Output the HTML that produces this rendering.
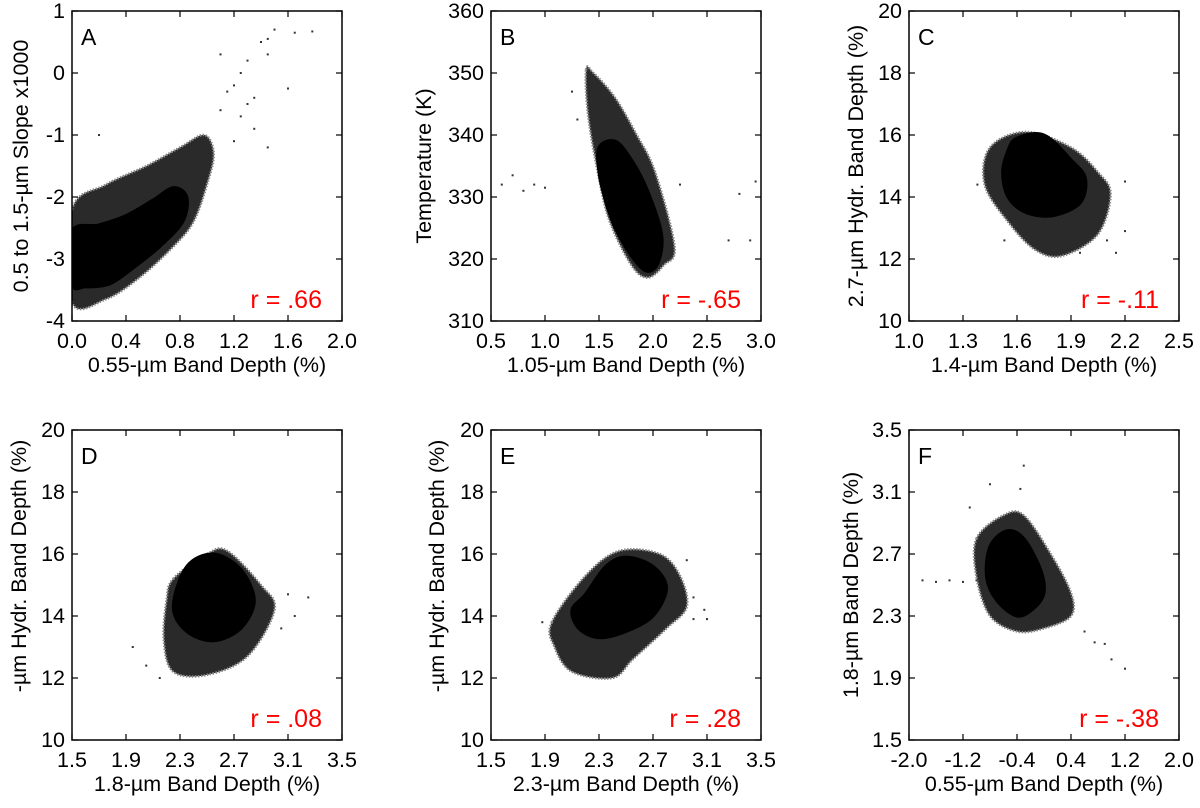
<!DOCTYPE html>
<html><head><meta charset="utf-8"><style>
body{margin:0;background:#fff}
svg text{font-family:"Liberation Sans",Arial,sans-serif;fill:#000}
</style></head><body>
<svg id="fig" width="1200" height="803" viewBox="0 0 1200 803" xmlns="http://www.w3.org/2000/svg"></svg>
<script>
// ---- data (approximate shapes of point clouds) ----
const panelIds = ["A","B","C","D","E","F"];
const rLabels = ["r = .66","r = -.65","r = -.11","r = .08","r = .28","r = -.38"];
const xTitles = ["0.55-\u00b5m Band Depth (%)","1.05-\u00b5m Band Depth (%)","1.4-\u00b5m Band Depth (%)","1.8-\u00b5m Band Depth (%)","2.3-\u00b5m Band Depth (%)","0.55-\u00b5m Band Depth (%)"];
const yTitles = ["0.5 to 1.5-\u00b5m Slope x1000","Temperature (K)","2.7-\u00b5m Hydr. Band Depth (%)","-\u00b5m Hydr. Band Depth (%)","-\u00b5m Hydr. Band Depth (%)","1.8-\u00b5m Band Depth (%)"];
const xTicksA = [0.0,0.4,0.8,1.2,1.6,2.0], xTickLabA = ["0.0","0.4","0.8","1.2","1.6","2.0"];
const yTicksA = [-4,-3,-2,-1,0,1], yTickLabA = ["-4","-3","-2","-1","0","1"];
const xTicksB = [0.5,1.0,1.5,2.0,2.5,3.0], xTickLabB = ["0.5","1.0","1.5","2.0","2.5","3.0"];
const yTicksB = [310,320,330,340,350,360], yTickLabB = ["310","320","330","340","350","360"];
const xTicksC = [1.0,1.3,1.6,1.9,2.2,2.5], xTickLabC = ["1.0","1.3","1.6","1.9","2.2","2.5"];
const yTicksHyd = [10,12,14,16,18,20], yTickLabHyd = ["10","12","14","16","18","20"];
const xTicksDE = [1.5,1.9,2.3,2.7,3.1,3.5], xTickLabDE = ["1.5","1.9","2.3","2.7","3.1","3.5"];
const xTicksF = [-2.0,-1.2,-0.4,0.4,1.2,2.0], xTickLabF = ["-2.0","-1.2","-0.4","0.4","1.2","2.0"];
const yTicksF = [1.5,1.9,2.3,2.7,3.1,3.5], yTickLabF = ["1.5","1.9","2.3","2.7","3.1","3.5"];

const coreA = [[0,-2.55],[0.2,-2.45],[0.4,-2.3],[0.6,-2.05],[0.75,-1.85],[0.85,-2.0],[0.82,-2.4],[0.65,-2.8],[0.45,-3.15],[0.28,-3.4],[0.1,-3.45],[0,-3.4]];
const haloA = [[0,-2.2],[0.25,-1.8],[0.55,-1.5],[0.8,-1.2],[0.98,-1.0],[1.05,-1.3],[1.0,-1.8],[0.9,-2.4],[0.75,-2.8],[0.5,-3.3],[0.25,-3.65],[0,-3.7]];
const sparseA = [[1.2,-0.2],[1.3,0.2],[1.45,0.55],[1.5,0.7],[1.65,0.65],[1.78,0.67],[1.4,0.5],[1.25,0],[1.35,-0.4],[1.45,-1.2],[0.2,-1.0],[1.15,-0.3],[1.1,-0.6],[1.35,-0.9],[1.25,-0.7],[1.6,-0.25],[1.1,0.3],[1.45,0.3],[1.3,-0.5],[1.2,-1.1]];
const coreB = [[1.5,338],[1.65,339],[1.8,336],[1.95,331],[2.08,324],[2.05,319.5],[1.95,318],[1.82,320],[1.65,325],[1.55,330],[1.5,334]];
const haloB = [[1.38,350.5],[1.45,350],[1.65,346],[1.85,340],[2.02,334],[2.2,322],[2.1,319],[1.95,317],[1.8,319],[1.6,326],[1.5,333],[1.4,343]];
const sparseB = [[0.6,332],[0.7,333.5],[0.8,331],[0.9,332],[1.0,331.5],[2.25,332],[2.7,323],[2.9,323],[2.8,330.5],[2.95,332.5],[1.3,342.5],[1.25,347]];
const coreC = [[1.6,15.9],[1.75,16],[1.9,15.2],[1.98,14.6],[1.95,13.8],[1.8,13.4],[1.65,13.5],[1.55,14.0],[1.52,14.8],[1.55,15.5]];
const haloC = [[1.45,15.6],[1.65,16.1],[1.9,15.6],[2.05,14.8],[2.12,14.1],[2.05,12.8],[1.85,12.1],[1.7,12.3],[1.55,13.2],[1.42,14.4]];
const sparseC = [[1.38,14.4],[2.2,14.5],[2.2,12.9],[1.53,12.6],[2.15,12.2],[2.1,12.6],[1.95,12.2]];
const coreD = [[2.35,15.6],[2.55,16],[2.75,15.5],[2.85,14.5],[2.75,13.6],[2.55,13.2],[2.35,13.5],[2.25,14.3]];
const haloD = [[2.25,15.2],[2.5,16],[2.65,16.1],[2.9,15],[3.0,14.2],[2.8,12.7],[2.5,12.1],[2.25,12.2],[2.18,13.2],[2.2,14.5]];
const sparseD = [[1.95,13.0],[2.05,12.4],[3.1,14.7],[3.15,14.0],[3.25,14.6],[3.05,13.6],[2.15,12.0]];
const coreE = [[2.2,14.7],[2.35,15.6],[2.5,15.9],[2.7,15.6],[2.8,14.9],[2.7,14.0],[2.5,13.5],[2.3,13.3],[2.15,13.6],[2.1,14.2]];
const haloE = [[1.95,13.8],[2.2,15.3],[2.45,16.1],[2.75,16],[2.9,15.3],[2.95,14.3],[2.8,13.6],[2.55,12.6],[2.4,12.0],[2.1,12.2],[1.97,13.0]];
const sparseE = [[1.88,13.8],[3.0,13.9],[3.1,13.9],[3.08,14.2],[2.95,15.8],[3.0,14.6]];
const coreF = [[-0.8,2.75],[-0.55,2.85],[-0.3,2.8],[-0.05,2.6],[0.0,2.45],[-0.15,2.35],[-0.4,2.3],[-0.7,2.4],[-0.85,2.55]];
const haloF = [[-1.0,2.8],[-0.6,2.95],[-0.3,2.95],[0.1,2.7],[0.4,2.45],[0.4,2.3],[0.0,2.22],[-0.4,2.2],[-0.8,2.3],[-1.0,2.55]];
const sparseF = [[-1.8,2.53],[-1.6,2.52],[-1.4,2.53],[-1.2,2.52],[-1.0,2.53],[-0.3,3.27],[-0.35,3.12],[-0.8,3.15],[-1.1,3.0],[0.6,2.2],[0.9,2.12],[1.0,2.02],[1.2,1.96],[0.75,2.13]];

const panels = [
 {x0:72,y0:11,xd:[0,2],yd:[-4,1],xt:xTicksA,xl:xTickLabA,yt:yTicksA,yl:yTickLabA,core:coreA,halo:haloA,sp:sparseA,ytx:20,yty:166},
 {x0:491,y0:11,xd:[0.5,3],yd:[310,360],xt:xTicksB,xl:xTickLabB,yt:yTicksB,yl:yTickLabB,core:coreB,halo:haloB,sp:sparseB,ytx:423,yty:166},
 {x0:909,y0:11,xd:[1,2.5],yd:[10,20],xt:xTicksC,xl:xTickLabC,yt:yTicksHyd,yl:yTickLabHyd,core:coreC,halo:haloC,sp:sparseC,ytx:855,yty:166},
 {x0:72,y0:430,xd:[1.5,3.5],yd:[10,20],xt:xTicksDE,xl:xTickLabDE,yt:yTicksHyd,yl:yTickLabHyd,core:coreD,halo:haloD,sp:sparseD,ytx:18,yty:566},
 {x0:491,y0:430,xd:[1.5,3.5],yd:[10,20],xt:xTicksDE,xl:xTickLabDE,yt:yTicksHyd,yl:yTickLabHyd,core:coreE,halo:haloE,sp:sparseE,ytx:436,yty:566},
 {x0:909,y0:430,xd:[-2,2],yd:[1.5,3.5],xt:xTicksF,xl:xTickLabF,yt:yTicksF,yl:yTickLabF,core:coreF,halo:haloF,sp:sparseF,ytx:850,yty:585}
];
const W=270,H=310,NS="http://www.w3.org/2000/svg";
const svg=document.getElementById("fig");
function mk(tag,attrs,parent){const e=document.createElementNS(NS,tag);for(const k in attrs)e.setAttribute(k,attrs[k]);parent.appendChild(e);return e;}
function smooth(P){ // closed Catmull-Rom path
  const n=P.length;let d="M"+P[0][0].toFixed(1)+","+P[0][1].toFixed(1);
  for(let i=0;i<n;i++){
    const p0=P[(i-1+n)%n],p1=P[i],p2=P[(i+1)%n],p3=P[(i+2)%n];
    const c1=[p1[0]+(p2[0]-p0[0])/6,p1[1]+(p2[1]-p0[1])/6];
    const c2=[p2[0]-(p3[0]-p1[0])/6,p2[1]-(p3[1]-p1[1])/6];
    d+=`C${c1[0].toFixed(1)},${c1[1].toFixed(1)} ${c2[0].toFixed(1)},${c2[1].toFixed(1)} ${p2[0].toFixed(1)},${p2[1].toFixed(1)}`;
  }
  return d+"Z";
}
const defs=mk("defs",{},svg);
panels.forEach((p,i)=>{
  const cp=mk("clipPath",{id:"clip"+i},defs);
  mk("rect",{x:p.x0,y:p.y0,width:W,height:H},cp);
  const g=mk("g",{},svg);
  
  
  const sx=v=>p.x0+(v-p.xd[0])/(p.xd[1]-p.xd[0])*W;
  const sy=v=>p.y0+H-(v-p.yd[0])/(p.yd[1]-p.yd[0])*H;
  const px=a=>a.map(d=>[sx(d[0]),sy(d[1])]);
  const cg=mk("g",{"clip-path":`url(#clip${i})`},g);
  const halo=mk("path",{d:smooth(px(p.halo)),fill:"#2a2a2a","stroke":"#888","stroke-width":"2.5","stroke-dasharray":"1.5 1.5"},cg);
  
  
  const core=mk("path",{d:smooth(px(p.core)),fill:"#000",stroke:"#000","stroke-width":"3"},cg);
  
  
  p.sp.forEach(d=>{
    const c=mk("rect",{x:sx(d[0])-1,y:sy(d[1])-1,width:2,height:2,fill:"#333"},cg);
    
    
  });
  const fr=mk("rect",{x:p.x0,y:p.y0,width:W,height:H,fill:"none",stroke:"#000","stroke-width":"1.5"},g);
  
  
  p.xt.forEach((v,k)=>{
    const x=sx(v);
    mk("line",{x1:x,y1:p.y0+H,x2:x,y2:p.y0+H-6,stroke:"#000","stroke-width":"1.2"},g);
    mk("line",{x1:x,y1:p.y0,x2:x,y2:p.y0+6,stroke:"#000","stroke-width":"1.2"},g);
    const t=mk("text",{x:x,y:p.y0+H+27,"font-size":"21.5","text-anchor":"middle"},g);
    t.textContent=p.xl[k];
    
    
  });
  p.yt.forEach((v,k)=>{
    const y=sy(v);
    mk("line",{x1:p.x0,y1:y,x2:p.x0+6,y2:y,stroke:"#000","stroke-width":"1.2"},g);
    mk("line",{x1:p.x0+W,y1:y,x2:p.x0+W-6,y2:y,stroke:"#000","stroke-width":"1.2"},g);
    const t=mk("text",{x:p.x0-7,y:y+7,"font-size":"21.5","text-anchor":"end"},g);
    t.textContent=p.yl[k];
    
    
  });
  const xt=mk("text",{x:p.x0+W/2,y:p.y0+H+51,"font-size":"21.5","text-anchor":"middle"},g);
  xt.textContent=xTitles[i];
  
  
  const yt=mk("text",{x:0,y:0,"font-size":"21.5","text-anchor":"middle",transform:`translate(${p.ytx+8},${p.yty}) rotate(-90)`},g);
  yt.textContent=yTitles[i];
  
  
  const lt=mk("text",{x:p.x0+9,y:p.y0+34,"font-size":"23"},g);
  lt.textContent=panelIds[i];
  
  
  const rt=mk("text",{x:p.x0+W-20,y:p.y0+H-13,"font-size":"25","text-anchor":"end",style:"fill:#f00"},g);
  rt.textContent=rLabels[i];
  
  
});
</script>
</body></html>
